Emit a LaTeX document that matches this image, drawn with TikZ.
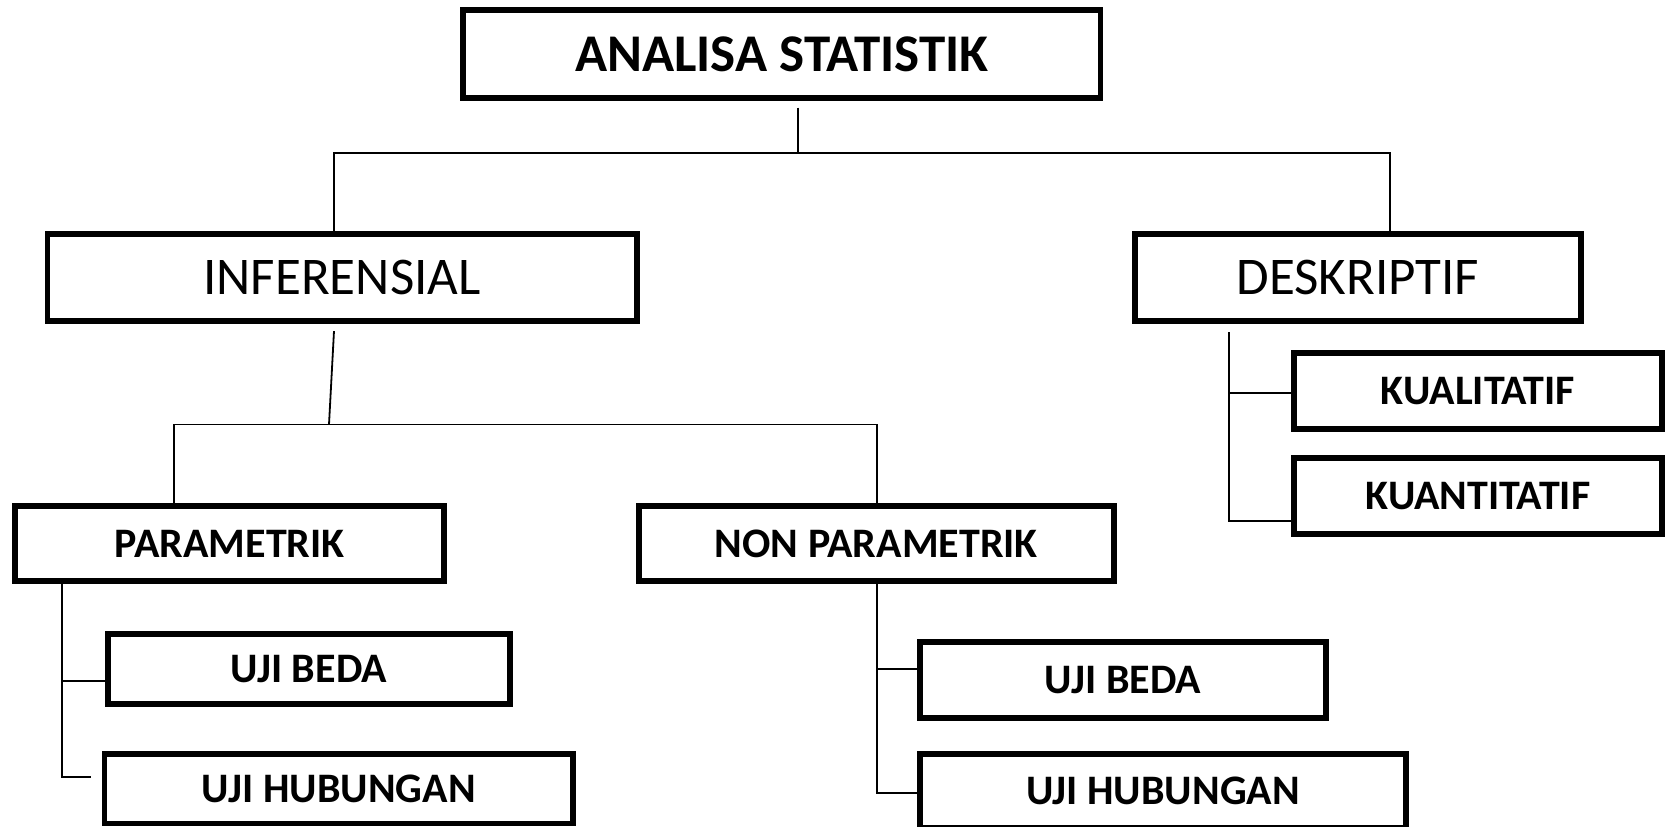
\documentclass[tikz,border=0pt]{standalone}
\usepackage{fontspec}
\setmainfont{Carlito}

\begin{document}
\begin{tikzpicture}[
    x=1pt, y=-1pt,
    box/.style = {
      draw,
      line width = 5.8pt,
      inner sep = 0pt,
      align = center
    },
    bigbox/.style = {box, minimum height = 87.3pt, font = \fontsize{53}{63}\selectfont},
    smallbox/.style = {box, font = \bfseries\fontsize{42}{50}\selectfont},
    link/.style = {line width = 1.8pt}
  ]
  \useasboundingbox (0,0) rectangle (1666,827);
  \clip (0,0) rectangle (1666,827);

  % boxes
  \node[bigbox, font = \bfseries\fontsize{53}{63}\selectfont, minimum width = 637.7pt] (stat) at (781.7,54) {ANALISA STATISTIK};
  \node[bigbox, minimum width = 589.2pt] (inf) at (342,277.5) {INFERENSIAL};
  \node[bigbox, minimum width = 446.2pt] (des) at (1358,277.5) {DESKRIPTIF};
  \node[smallbox, minimum width = 428.7pt, minimum height = 75.2pt] (par) at (229.7,543.5) {PARAMETRIK};
  \node[smallbox, minimum width = 474.7pt, minimum height = 75.2pt] (npar) at (876.3,543.5) {NON PARAMETRIK};
  \node[smallbox, minimum width = 368.2pt, minimum height = 75.7pt] (kual) at (1478,391.2) {KUALITATIF};
  \node[smallbox, minimum width = 368.2pt, minimum height = 76.2pt] (kuan) at (1478,496) {KUANTITATIF};
  \node[smallbox, minimum width = 401.7pt, minimum height = 69.7pt] (pbeda) at (308.8,669.2) {UJI BEDA};
  \node[smallbox, minimum width = 468.7pt, minimum height = 69.7pt] (phub) at (338.8,788.7) {UJI HUBUNGAN};
  \node[smallbox, minimum width = 405.7pt, minimum height = 75.7pt] (nbeda) at (1122.8,679.8) {UJI BEDA};
  \node[smallbox, minimum width = 486.2pt, minimum height = 74.2pt] (nhub) at (1163,791) {UJI HUBUNGAN};

  % joints
  \coordinate (statjoin) at (798,153);
  \coordinate (infjoin) at (334,153);
  \coordinate (desjoin) at (1390,153);
  \coordinate (infsplit) at (329,424.5);
  \coordinate (parjoin) at (174,424.5);
  \coordinate (nparjoin) at (877,424.5);
  \coordinate (partrunk) at (62,777);
  \coordinate (parbeda) at (62,681);
  \coordinate (npartrunk) at (877,793);
  \coordinate (nparbeda) at (877,669.3);
  \coordinate (destrunk) at (1229,521);
  \coordinate (deskual) at (1229,392.7);

  % connectors
  \draw[link] ([yshift=-7pt]stat.south -| statjoin) -- (statjoin);
  \draw[link] (inf.north -| infjoin) -- (infjoin) -- (desjoin) -- (des.north -| desjoin);
  \draw[link] ([yshift=-7pt]inf.south -| infjoin) -- (infsplit);
  \draw[link] (par.north -| parjoin) -- (parjoin) -- (nparjoin) -- (npar.north -| nparjoin);
  \draw[link] (par.south -| partrunk) -- (partrunk) -- ([xshift=-10.5pt]phub.west |- partrunk);
  \draw[link] (parbeda) -- (parbeda -| pbeda.west);
  \draw[link] (npar.south -| npartrunk) -- (npartrunk) -- ([xshift=6pt]nhub.west |- npartrunk);
  \draw[link] (nparbeda) -- ([xshift=6pt]nbeda.west |- nparbeda);
  \draw[link] ([yshift=-8pt]des.south -| destrunk) -- (destrunk) -- (destrunk -| kuan.west);
  \draw[link] (deskual) -- (deskual -| kual.west);
\end{tikzpicture}
\end{document}
